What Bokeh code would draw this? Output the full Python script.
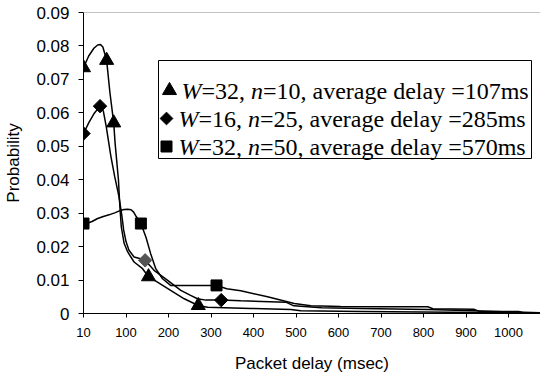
import numpy as np
from bokeh.plotting import figure
from bokeh.models import FixedTicker, Range1d, Span
from bokeh.core.properties import value
from bokeh.embed import file_html
from bokeh.resources import INLINE

# ---------------- data ----------------
x_tick_values = [10, 100, 200, 300, 400, 500, 600, 700, 800, 900, 1000]
x_tick_labels = ["10", "100", "200", "300", "400", "500", "600", "700", "800", "900", "1000"]
y_tick_values = [0, 0.01, 0.02, 0.03, 0.04, 0.05, 0.06, 0.07, 0.08, 0.09]
y_tick_labels = ["0", "0.01", "0.02", "0.03", "0.04", "0.05", "0.06", "0.07", "0.08", "0.09"]

# W=32, n=10
s1_delay = [10, 21, 32, 40, 46, 51, 59, 66, 74, 77, 84, 87, 90, 96, 104, 119, 139, 153,
            174, 205, 237, 270, 292, 394, 488, 511, 652, 864, 1076]
s1_prob = [0.0735, 0.0770, 0.0793, 0.0803, 0.0804, 0.0797, 0.0757, 0.0660, 0.0570, 0.0508,
           0.0400, 0.0320, 0.0260, 0.0210, 0.0184, 0.0154, 0.0134, 0.0110,
           0.0094, 0.0069, 0.0044, 0.0024, 0.0019, 0.0015, 0.0012, 0.0008, 0.0006, 0.0004, 0.0001]
s1_mark_delay = [10, 59, 74, 153, 270]
s1_mark_prob = [0.0735, 0.0757, 0.0570, 0.0110, 0.0024]

# W=16, n=25
s2_delay = [10, 21, 32, 45, 52, 58, 68, 76, 85, 91, 95, 100, 107, 119, 130, 145,
            166, 198, 229, 252, 268, 288, 324, 370, 476, 495, 560, 652, 810, 918, 1076]
s2_prob = [0.0538, 0.0570, 0.0597, 0.0620, 0.0605, 0.0560, 0.0470, 0.0410, 0.0350, 0.0295,
           0.0250, 0.0215, 0.0189, 0.0169, 0.0165, 0.0159,
           0.0129, 0.0099, 0.0069, 0.0054, 0.0044, 0.0040, 0.0040, 0.0038, 0.0034, 0.0023,
           0.0017, 0.0015, 0.0012, 0.0008, 0.0002]
s2_mark_delay = [10, 45, 145, 324]
s2_mark_prob = [0.0538, 0.0620, 0.0159, 0.0040]
s2_mark_color = ["black", "black", "#555555", "black"]

# W=32, n=50
s3_delay = [10, 18, 28, 40, 52, 64, 76, 86, 96, 104, 112, 118, 124, 135, 147, 158, 170, 186, 205,
            252, 313, 337, 370, 433, 496, 535, 605, 700, 810, 822, 918, 930, 1024, 1034, 1076]
s3_prob = [0.0269, 0.0270, 0.0275, 0.0284, 0.0290, 0.0295, 0.0301, 0.0307, 0.0311, 0.0312,
           0.0310, 0.0303, 0.0290, 0.0269, 0.0228, 0.0179, 0.0134, 0.0104, 0.0084,
           0.0084, 0.0084, 0.0074, 0.0068, 0.0050, 0.0030, 0.0023, 0.0021, 0.0020, 0.0020,
           0.0014, 0.0013, 0.0007, 0.0006, 0.0002, 0.0001]
s3_mark_delay = [10, 135, 313]
s3_mark_prob = [0.0269, 0.0269, 0.0084]

legend_w = ["32", "16", "32"]
legend_n = ["10", "25", "50"]
legend_avg = ["107ms", "285ms", "570ms"]


def pos(ms):
    # category-like axis: 10 -> 0, 100 -> 1, 200 -> 2, ...
    ms = np.asarray(ms, dtype=float)
    return np.where(ms < 100, (ms - 10) / 90.0, ms / 100.0)


# ---------------- layout helpers (canvas pixels -> data) ----------------
FL, FT, FB, FR = 83.0, 12.0, 313.0, 540.0
PX_PER_X = 42.5
X_END = (FR - FL) / PX_PER_X
PX_PER_Y = (FB - FT) / 0.09


def sx(px):
    return (px - FL) / PX_PER_X


def sy(py):
    return (FB - py) / PX_PER_Y


p = figure(width=540, height=375, output_backend="svg", toolbar_location=None,
           x_range=Range1d(0, X_END), y_range=Range1d(0, 0.09),
           min_border_left=int(FL), min_border_right=0, min_border_top=int(FT),
           min_border_bottom=375 - int(FB))
p.background_fill_color = "white"
p.border_fill_color = "white"
p.outline_line_color = None
p.xgrid.visible = False
p.ygrid.visible = False

p.add_layout(Span(location=0.09, dimension="width", line_color="#888888", line_width=1))

# axes
p.xaxis.ticker = FixedTicker(ticks=list(pos(x_tick_values)))
p.xaxis.major_label_overrides = {float(v): l for v, l in zip(pos(x_tick_values), x_tick_labels)}
p.yaxis.ticker = FixedTicker(ticks=y_tick_values)
p.yaxis.major_label_overrides = {v: l for v, l in zip(y_tick_values, y_tick_labels)}
for ax in (p.xaxis, p.yaxis):
    ax.axis_line_color = "black"
    ax.axis_line_width = 1
    ax.major_tick_line_color = "black"
    ax.major_tick_in = 0
    ax.minor_tick_line_color = None
    ax.major_label_text_font = "Liberation Sans"
    ax.axis_label_text_font = "Liberation Sans"
    ax.axis_label_text_font_style = "normal"
    ax.axis_label_text_color = "black"
    ax.major_label_text_color = "black"
p.xaxis.major_tick_out = 4
p.yaxis.major_tick_out = 5
p.xaxis.major_label_text_font_size = "13px"
p.yaxis.major_label_text_font_size = "17px"
p.xaxis.major_label_standoff = 10
p.yaxis.major_label_standoff = 9
p.xaxis.axis_label = "Packet delay (msec)"
p.yaxis.axis_label = "Probability"
p.xaxis.axis_label_text_font_size = "17px"
p.yaxis.axis_label_text_font_size = "17px"
p.xaxis.axis_label_standoff = 14
p.yaxis.axis_label_standoff = 10

# legend box (drawn first so that everything else sits on top)
p.quad(left=[sx(158)], right=[sx(531)], top=[sy(60)], bottom=[sy(158)],
       fill_color="white", line_color="black", line_width=1)

# curves
for d, pr in ((s1_delay, s1_prob), (s2_delay, s2_prob), (s3_delay, s3_prob)):
    p.line(x=pos(d), y=pr, line_color="black", line_width=1.5)

p.scatter(x=pos(s1_mark_delay), y=s1_mark_prob, marker="triangle", size=14,
          fill_color="black", line_color="black")
p.scatter(x=pos(s2_mark_delay), y=s2_mark_prob, marker="square", angle=np.pi / 4, size=9.5,
          fill_color=s2_mark_color, line_color=s2_mark_color)
p.scatter(x=pos(s3_mark_delay), y=s3_mark_prob, marker="square", size=11,
          fill_color="black", line_color="black")

# legend content (custom, for mixed italic text)
rows_y = [sy(90), sy(118), sy(146)]
p.scatter(x=[sx(169)], y=[rows_y[0]], marker="triangle", size=14, fill_color="black", line_color="black")
p.scatter(x=[sx(166)], y=[rows_y[1]], marker="square", angle=np.pi / 4, size=9,
          fill_color="black", line_color="black")
p.scatter(x=[sx(166)], y=[rows_y[2]], marker="square", size=11, fill_color="black", line_color="black")

F = 24.0
starts = [181, 178, 178]
w_W = 0.833 * F
w_eq = (0.564 + 0.5 + 0.5 + 0.25 + 0.25) * F
w_n = 0.5 * F
it_x, it_y, it_t = [], [], []
rg_x, rg_y, rg_t = [], [], []
for i in range(3):
    x0 = starts[i]
    it_x += [sx(x0), sx(x0 + w_W + w_eq)]
    it_y += [rows_y[i], rows_y[i]]
    it_t += ["W", "n"]
    rg_x += [sx(x0 + w_W), sx(x0 + w_W + w_eq + w_n)]
    rg_y += [rows_y[i], rows_y[i]]
    rg_t += ["=" + legend_w[i] + ", ", "=" + legend_n[i] + ", average delay =" + legend_avg[i]]

p.text(x=it_x, y=it_y, text=it_t, text_font=value("Liberation Serif"), text_font_size="24px",
       text_font_style="italic", text_baseline="middle", text_align="left", text_color="black")
p.text(x=rg_x, y=rg_y, text=rg_t, text_font=value("Liberation Serif"), text_font_size="24px",
       text_baseline="middle", text_align="left", text_color="black")

open("out.html", "w").write(file_html(p, INLINE))
